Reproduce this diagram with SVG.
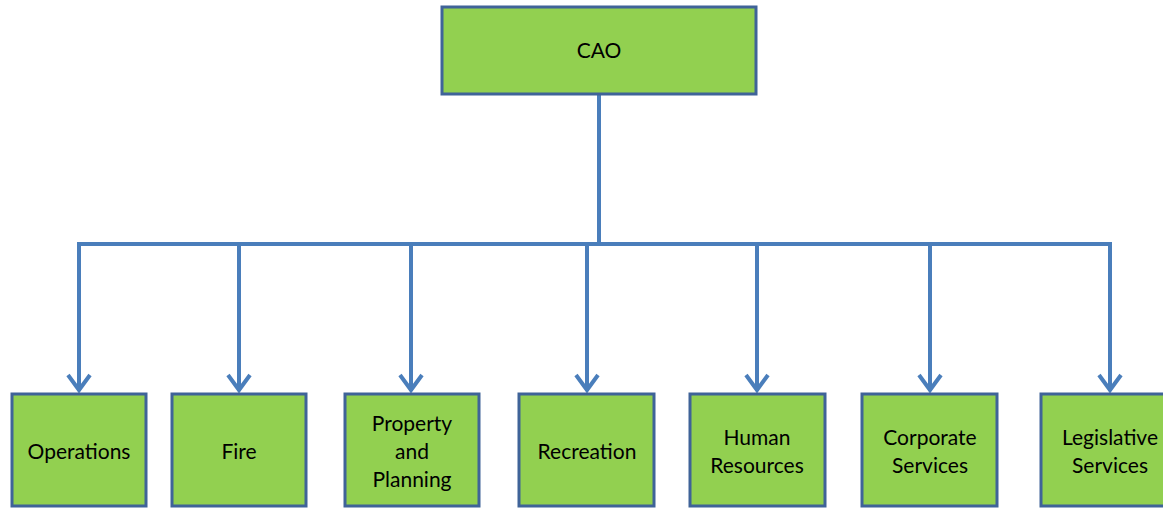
<svg xmlns="http://www.w3.org/2000/svg" width="1163" height="508" viewBox="0 0 1163 508">
  <style>
    .box { fill: #92d050; stroke: #3f6398; stroke-width: 3; }
    .lbl { font-family: "Lato", "Open Sans", "Liberation Sans", sans-serif; font-size: 21px; fill: #000; text-anchor: middle; }
    .wire { fill: none; stroke: #4a7ebb; stroke-width: 4; }
    .head { fill: none; stroke: #4a7ebb; stroke-width: 4; stroke-linecap: butt; stroke-linejoin: miter; }
  </style>
  <defs>
    <path id="chev" class="head" d="M-11,-18 L0,-3 L11,-18"/>
  </defs>
  <rect width="1163" height="508" fill="#ffffff"/>

  <!-- connectors -->
  <g id="connectors">
    <path class="wire" d="M599,94 V244"/>
    <path class="wire" d="M79,391 V244 H1110 V391"/>
    <path class="wire" d="M239,244 V391"/>
    <path class="wire" d="M411,244 V391"/>
    <path class="wire" d="M587,244 V391"/>
    <path class="wire" d="M757,244 V391"/>
    <path class="wire" d="M930,244 V391"/>
    <use href="#chev" x="79" y="393"/>
    <use href="#chev" x="239" y="393"/>
    <use href="#chev" x="411" y="393"/>
    <use href="#chev" x="587" y="393"/>
    <use href="#chev" x="757" y="393"/>
    <use href="#chev" x="930" y="393"/>
    <use href="#chev" x="1110" y="393"/>
  </g>

  <g id="cao">
    <rect class="box" x="442" y="7" width="314" height="87"/>
    <text class="lbl" x="599" y="58">CAO</text>
  </g>

  <g id="operations">
    <rect class="box" x="12" y="394" width="134" height="112"/>
    <text class="lbl" x="79" y="459">Operations</text>
  </g>

  <g id="fire">
    <rect class="box" x="172" y="394" width="134" height="112"/>
    <text class="lbl" x="239" y="459">Fire</text>
  </g>

  <g id="property-planning">
    <rect class="box" x="345" y="394" width="134" height="112"/>
    <text class="lbl" x="412" y="431">Property</text>
    <text class="lbl" x="412" y="459">and</text>
    <text class="lbl" x="412" y="487">Planning</text>
  </g>

  <g id="recreation">
    <rect class="box" x="519" y="394" width="135" height="112"/>
    <text class="lbl" x="587" y="459">Recreation</text>
  </g>

  <g id="human-resources">
    <rect class="box" x="690" y="394" width="135" height="112"/>
    <text class="lbl" x="757" y="445">Human</text>
    <text class="lbl" x="757" y="473">Resources</text>
  </g>

  <g id="corporate-services">
    <rect class="box" x="862" y="394" width="135" height="112"/>
    <text class="lbl" x="930" y="445">Corporate</text>
    <text class="lbl" x="930" y="473">Services</text>
  </g>

  <g id="legislative-services">
    <rect class="box" x="1041" y="394" width="135" height="112"/>
    <text class="lbl" x="1110" y="445">Legislative</text>
    <text class="lbl" x="1110" y="473">Services</text>
  </g>
</svg>
